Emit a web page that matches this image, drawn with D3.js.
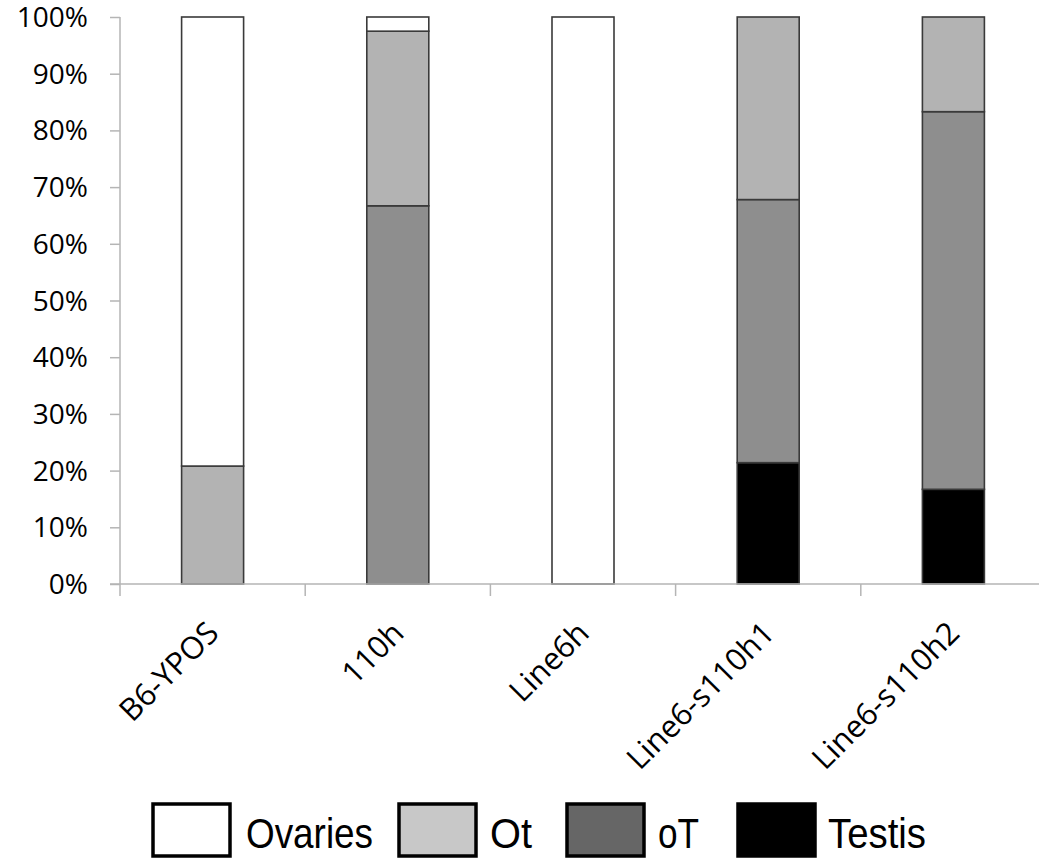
<!DOCTYPE html>
<html>
<head>
<meta charset="utf-8">
<script src="https://cdn.jsdelivr.net/npm/d3@7"></script>
<style>
  html, body { margin: 0; padding: 0; background: #fff; }
  svg { display: block; }
</style>
</head>
<body>
<svg id="chart" width="1039" height="861"></svg>
<script>
// ---- data ----
const categories = ["B6-YPOS", "110h", "Line6h", "Line6-s110h1", "Line6-s110h2"];
const seriesNames = ["Testis", "oT", "Ot", "Ovaries"]; // stacking order bottom -> top
const testis  = [0,    0,    0,   21.4, 16.7];
const oT      = [0,    66.7, 0,   46.4, 66.6];
const Ot      = [20.8, 30.8, 0,   32.2, 16.7];
const ovaries = [79.2, 2.5,  100, 0,    0];
const yTicks = [0, 10, 20, 30, 40, 50, 60, 70, 80, 90, 100];
const legendNames = ["Ovaries", "Ot", "oT", "Testis"];

// ---- styling ----
const barColors = { Ovaries: "#ffffff", Ot: "#b3b3b3", oT: "#8e8e8e", Testis: "#000000" };
const legendColors = { Ovaries: "#ffffff", Ot: "#c8c8c8", oT: "#666666", Testis: "#000000" };

const svg = d3.select("#chart");
const plotLeft = 120, plotRight = 1046, plotTop = 17, plotBottom = 584;

const x = d3.scaleBand().domain(categories).range([plotLeft, plotRight]).paddingInner(0).paddingOuter(0);
const y = d3.scaleLinear().domain([0, 100]).range([plotBottom, plotTop]);

const rows = categories.map((c, i) => ({
  cat: c, Testis: testis[i], oT: oT[i], Ot: Ot[i], Ovaries: ovaries[i]
}));
const stacked = d3.stack().keys(seriesNames)(rows);

const barW = 62;

// bars
const layers = svg.append("g").selectAll("g").data(stacked).join("g")
  .attr("fill", d => barColors[d.key]);
layers.selectAll("rect").data(d => d.filter(s => s[1] - s[0] > 0)).join("rect")
  .attr("x", d => x(d.data.cat) + x.bandwidth() / 2 - barW / 2)
  .attr("y", d => y(d[1]))
  .attr("width", barW)
  .attr("height", d => y(d[0]) - y(d[1]))
  .attr("stroke", "#3a3a3a")
  .attr("stroke-width", 1.6);

// y axis
const axisColor = "#b5b5b5";
const yAxis = d3.axisLeft(y).tickValues(yTicks).tickFormat(d => d + "%").tickSize(10).tickPadding(22);
const gy = svg.append("g").attr("transform", `translate(${plotLeft},0)`).call(yAxis);
gy.select(".domain").attr("stroke", axisColor).attr("stroke-width", 1.5).attr("d", `M0,${plotTop}V${plotBottom}`);
gy.selectAll(".tick line").attr("stroke", axisColor).attr("stroke-width", 1.5);
gy.selectAll(".tick text")
  .attr("font-family", "'Open Sans', sans-serif")
  .attr("font-size", 28)
  .attr("dy", "0.34em")
  .attr("fill", "#000");

// x axis
const xTickPos = categories.map(c => x(c)).concat([plotRight]);
const gx = svg.append("g");
gx.append("line").attr("x1", plotLeft - 10).attr("x2", plotRight).attr("y1", plotBottom).attr("y2", plotBottom)
  .attr("stroke", axisColor).attr("stroke-width", 1.5);
gx.selectAll("line.t").data(xTickPos).join("line").attr("class", "t")
  .attr("x1", d => d).attr("x2", d => d).attr("y1", plotBottom).attr("y2", plotBottom + 12)
  .attr("stroke", axisColor).attr("stroke-width", 1.5);
gx.selectAll("text").data(categories).join("text")
  .attr("transform", d => `translate(${x(d) + x.bandwidth() / 2 + 8},635) rotate(-45)`)
  .attr("text-anchor", "end")
  .attr("font-family", "'Open Sans', sans-serif")
  .attr("font-size", 31)
  .attr("fill", "#000")
  .text(d => d);

// legend
const legendBoxX = [153, 399, 567, 738];
const legendTextX = [246, 490, 658, 828];
const legendTextW = [127, 42, 41, 98];
const legend = svg.append("g");
legendNames.forEach((name, i) => {
  legend.append("rect")
    .attr("x", legendBoxX[i]).attr("y", 804).attr("width", 77).attr("height", 52)
    .attr("fill", legendColors[name]).attr("stroke", "#000").attr("stroke-width", 3.5);
  legend.append("text")
    .attr("x", legendTextX[i]).attr("y", 848)
    .attr("font-family", "'Liberation Sans', Arial, sans-serif")
    .attr("font-size", 42)
    .attr("textLength", legendTextW[i])
    .attr("lengthAdjust", "spacingAndGlyphs")
    .attr("fill", "#000")
    .text(name);
});
</script>
</body>
</html>
